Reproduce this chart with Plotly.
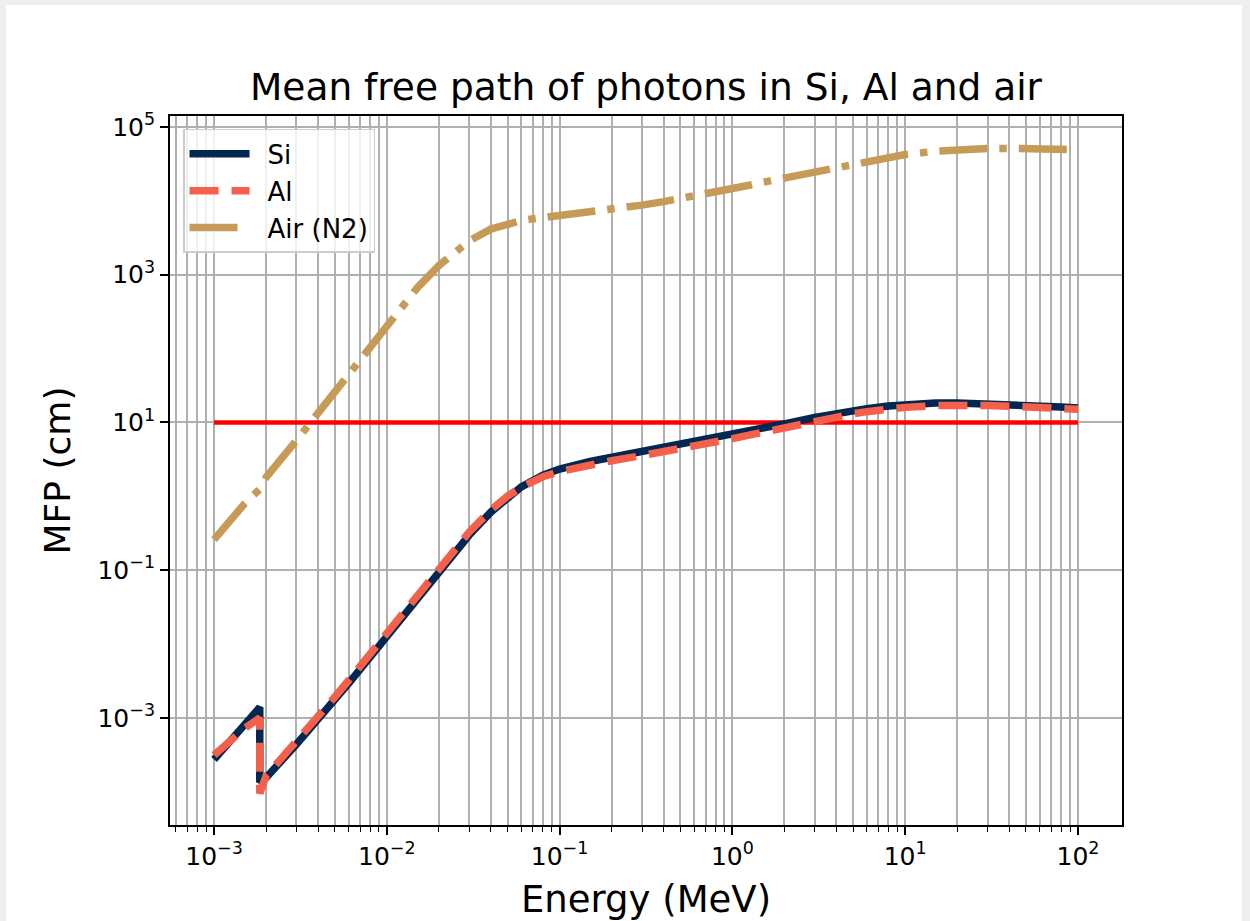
import plotly.graph_objects as go

# Photon energy grid (MeV); the Si K-edge is listed twice (below / above the edge)
energy_mev = [1e-3, 1.5e-3, 1.839e-3, 1.839e-3, 2e-3, 3e-3, 4e-3, 5e-3, 6e-3, 8e-3,
              1e-2, 1.5e-2, 2e-2, 3e-2, 4e-2, 5e-2, 6e-2, 8e-2,
              0.1, 0.15, 0.2, 0.3, 0.4, 0.5, 0.6, 0.8,
              1.0, 1.25, 1.5, 2.0, 3.0, 4.0, 5.0, 6.0, 8.0,
              10.0, 15.0, 20.0, 30.0, 40.0, 50.0, 60.0, 80.0, 100.0]

# Mean free path (cm)
mfp_si = [2.73e-4, 8.0e-4, 1.39e-3, 1.35e-4, 1.55e-4, 4.39e-4, 9.48e-4, 1.75e-3, 2.92e-3, 6.64e-3,
          1.27e-2, 4.15e-2, 9.6e-2, 0.299, 0.612, 0.979, 1.34, 1.93,
          2.34, 2.96, 3.37, 3.97, 4.46, 4.91, 5.31, 6.06,
          6.75, 7.55, 8.28, 9.58, 11.7, 13.3, 14.5, 15.4, 16.7,
          17.4, 18.3, 18.4, 18.0, 17.6, 17.2, 16.8, 16.2, 15.7]

mfp_al = [3.13e-4, 7.2e-4, 1.0e-3, 9.5e-5, 1.64e-4, 4.70e-4, 1.03e-3, 1.92e-3, 3.21e-3, 7.36e-3,
          1.41e-2, 4.66e-2, 0.108, 0.329, 0.652, 1.01, 1.33, 1.84,
          2.17, 2.69, 3.03, 3.56, 3.99, 4.39, 4.75, 5.42,
          6.03, 6.74, 7.40, 8.57, 10.5, 11.9, 13.1, 14.0, 15.2,
          16.0, 16.9, 17.1, 16.9, 16.6, 16.3, 16.0, 15.5, 15.1]

mfp_air = [0.259, 0.793, 1.25, 1.25, 1.80, 5.73, 13.3, 25.7, 44.0, 105.0,
           205.0, 665.0, 1328.0, 2871.0, 4149.0, 4925.0, 5416.0, 5940.0,
           6288.0, 6967.0, 7609.0, 8756.0, 9768.0, 10679.0, 11519.0, 13089.0,
           14541.0, 16260.0, 17871.0, 20447.0, 25358.0, 29206.0, 32526.0, 35295.0, 39538.0,
           42494.0, 46957.0, 49220.0, 51003.0, 51369.0, 51185.0, 50791.0, 49966.0, 49135.0]

# Reference level of 10 cm across the energy range
ref_energy = [1e-3, 100.0]
ref_mfp = [10.0, 10.0]

series_names = ["Si", "Al", "Air (N2)"]

x_major = [1e-3, 1e-2, 1e-1, 1e0, 1e1, 1e2]
x_major_text = ["10<sup>−3</sup>", "10<sup>−2</sup>", "10<sup>−1</sup>",
                "10<sup>0</sup>", "10<sup>1</sup>", "10<sup>2</sup>"]
y_major = [1e-3, 1e-1, 1e1, 1e3, 1e5]
y_major_text = ["10<sup>−3</sup>", "10<sup>−1</sup>", "10<sup>1</sup>",
                "10<sup>3</sup>", "10<sup>5</sup>"]
x_minor = [m * 10.0 ** e for e in range(-4, 3) for m in range(2, 10)]

FONT = "DejaVu Sans"
GRID = "#b0b0b0"
PAD = "\u2002"  # small gap between legend line sample and its label

fig = go.Figure()

fig.add_trace(go.Scatter(x=ref_energy, y=ref_mfp, mode="lines", showlegend=False,
                         line=dict(color="#ff0000", width=4.5), hoverinfo="skip"))
fig.add_trace(go.Scatter(x=energy_mev, y=mfp_si, mode="lines", name=PAD + series_names[0],
                         legendgroup="si", line=dict(color="#022851", width=7.5)))
fig.add_trace(go.Scatter(x=energy_mev, y=mfp_al, mode="lines", name=PAD + series_names[1],
                         legendgroup="al",
                         line=dict(color="#f4604a", width=7.5, dash="29px,13px")))
fig.add_trace(go.Scatter(x=energy_mev, y=mfp_air, mode="lines", name=PAD + series_names[2],
                         legendgroup="air",
                         line=dict(color="#c69b58", width=7.5, dash="48px,12px,7.5px,12px")))

# light page border around the white figure area
fig.add_shape(type="rect", xref="paper", yref="paper",
              x0=-0.1723, x1=1.1261, y0=-0.2, y1=1.1566,
              fillcolor="white", line=dict(width=0), layer="below")

fig.update_layout(
    width=1250, height=921,
    margin=dict(l=170, r=128, t=116, b=96, autoexpand=False),
    paper_bgcolor="#eeeeee",
    plot_bgcolor="white",
    font=dict(family=FONT, color="black", size=24),
    title=dict(text="Mean free path of photons in Si, Al and air",
               x=0.5, xref="paper", xanchor="center",
               y=1 - 87 / 921, yanchor="middle",
               font=dict(family=FONT, size=37.5, color="black")),
    legend=dict(x=0.0137, y=0.9817, xanchor="left", yanchor="top",
                bgcolor="rgba(255,255,255,0.8)", bordercolor="#cccccc", borderwidth=1.5,
                font=dict(family=FONT, size=26), tracegroupgap=5, traceorder="normal",
                itemwidth=60),
    showlegend=True,
)

fig.update_xaxes(
    type="log", range=[-3.255, 2.255], automargin=False,
    tickmode="array", tickvals=x_major, ticktext=x_major_text,
    ticks="outside", ticklen=8, tickwidth=1.5, tickcolor="black",
    tickfont=dict(family=FONT, size=25, color="black"),
    showgrid=True, gridcolor=GRID, gridwidth=1.6,
    showline=True, mirror=True, linecolor="black", linewidth=1.8,
    zeroline=False,
    minor=dict(tickmode="array", tickvals=x_minor, ticks="outside", ticklen=5,
               tickwidth=1.2, tickcolor="black", showgrid=True,
               gridcolor=GRID, gridwidth=1.6),
    title=dict(text="Energy (MeV)", font=dict(family=FONT, size=37, color="black"), standoff=16),
)

fig.update_yaxes(
    type="log", range=[-4.45, 5.149], automargin=False,
    tickmode="array", tickvals=y_major, ticktext=y_major_text,
    ticks="outside", ticklen=8, tickwidth=1.5, tickcolor="black",
    tickfont=dict(family=FONT, size=25, color="black"),
    showgrid=True, gridcolor=GRID, gridwidth=1.6,
    showline=True, mirror=True, linecolor="black", linewidth=1.8,
    zeroline=False,
    title=dict(text="MFP (cm)", font=dict(family=FONT, size=36, color="black"), standoff=16),
)

fig.write_html("out.html")
